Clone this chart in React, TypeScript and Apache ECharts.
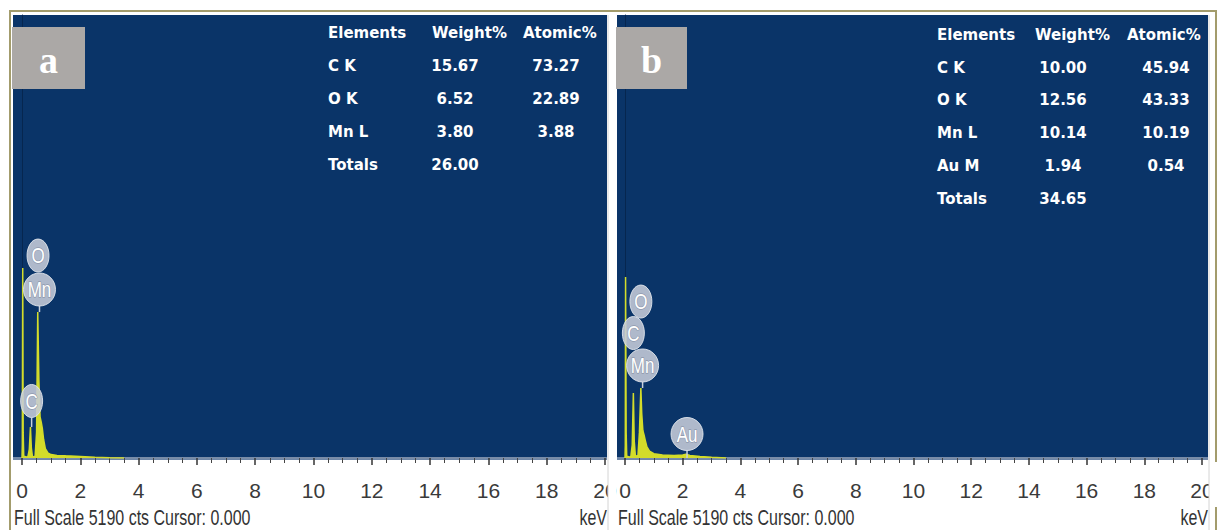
import React, { useEffect, useRef } from "react";
import * as echarts from "echarts";

// ---------- data ----------
const xTicks = [0, 2, 4, 6, 8, 10, 12, 14, 16, 18, 20];
const fullScale = 5190;

const specAkeV = [0, 0.01, 0.025, 0.04, 0.06, 0.2, 0.25, 0.29, 0.32, 0.36, 0.45, 0.5, 0.54, 0.58, 0.62, 0.66, 0.7, 0.74, 0.8, 0.9, 1.0, 1.2, 1.5, 2.0, 2.5, 3.0, 3.5];
const specActs = [0, 150, 2226, 300, 20, 10, 100, 363, 120, 10, 20, 300, 1710, 900, 480, 420, 340, 220, 110, 55, 40, 30, 25, 18, 10, 3, 0];

const specBkeV = [0, 0.01, 0.02, 0.04, 0.06, 0.2, 0.25, 0.29, 0.32, 0.36, 0.45, 0.5, 0.55, 0.58, 0.62, 0.66, 0.7, 0.76, 0.85, 1.0, 1.3, 1.7, 2.0, 2.12, 2.25, 2.6, 3.0, 3.5];
const specBcts = [0, 150, 2120, 300, 20, 10, 150, 762, 200, 20, 30, 300, 820, 520, 320, 270, 210, 130, 80, 50, 35, 30, 35, 45, 30, 18, 8, 0];

// peak labels: [keV, label-centre cts, pin-end cts]
const peakAText = ["O", "Mn", "C"];
const peakAPos = [[0.55, 2372, 2372], [0.6, 1974, 1710], [0.33, 668, 363]];
const peakBText = ["O", "C", "Mn", "Au"];
const peakBPos = [[0.55, 1833, 1833], [0.29, 1464, 1464], [0.61, 1084, 820], [2.15, 281, 0]];

const tableHeader = ["Elements", "Weight%", "Atomic%"];
const tableARows = [
  ["C K", "15.67", "73.27"],
  ["O K", "6.52", "22.89"],
  ["Mn L", "3.80", "3.88"],
  ["Totals", "26.00", ""],
];
const tableBRows = [
  ["C K", "10.00", "45.94"],
  ["O K", "12.56", "43.33"],
  ["Mn L", "10.14", "10.19"],
  ["Au M", "1.94", "0.54"],
  ["Totals", "34.65", ""],
];
const panelLetters = ["a", "b"];
const footerText = "Full Scale 5190 cts Cursor: 0.000";
const unitText = "keV";

// ---------- style / layout ----------
const NAVY = "#0a3468";
const YELLOW = "#d3dc2a";
const NARROW = "'Liberation Sans Narrow', 'Liberation Sans', Arial, sans-serif";
const TABLE_FONT = "bold 15px 'DejaVu Sans', sans-serif";

const panels = [
  { bx: 13, bw: 594, gl: 22, gw: 583, box: [12, 27, 73, 62], tbl: { el: 328, hdr: [328, 432, 523], wc: 455, ac: 556, y0: 33, dy: 33 }, rows: tableARows },
  { bx: 617, bw: 591, gl: 625, gw: 577, box: [616, 27, 71, 62], tbl: { el: 937, hdr: [937, 1035, 1127], wc: 1063, ac: 1166, y0: 35, dy: 32.7 }, rows: tableBRows },
];
const GTOP = 15;
const GH = 443;

function makeLabelSeries(texts: string[], pos: number[][], idx: number) {
  return {
    type: "custom",
    xAxisIndex: idx,
    yAxisIndex: idx,
    z: 6,
    clip: false,
    data: pos,
    renderItem: (params: any, api: any) => {
      const c = api.coord([api.value(0), api.value(1)]);
      const p = api.coord([api.value(0), api.value(2)]);
      const t = texts[params.dataIndex];
      const rx = t.length > 1 ? 16 : 11;
      const ry = 16.5;
      const children: any[] = [];
      if (p[1] > c[1] + ry) {
        children.push({ type: "line", shape: { x1: c[0], y1: c[1] + ry, x2: c[0], y2: p[1] }, style: { stroke: "#c8d0dc", lineWidth: 1.5 } });
      }
      children.push({ type: "ellipse", shape: { cx: c[0], cy: c[1], rx, ry }, style: { fill: "rgba(198,204,216,0.88)", stroke: "rgba(225,229,236,0.9)", lineWidth: 1 } });
      children.push({
        type: "text",
        x: c[0],
        y: c[1],
        scaleY: 1.3,
        style: { text: t, fill: "#ffffff", font: `17px ${NARROW}`, align: "center", verticalAlign: "middle", stroke: "rgba(120,130,150,0.6)", lineWidth: 1 },
      });
      return { type: "group", children };
    },
  };
}

export default function App() {
  const ref = useRef<HTMLDivElement>(null);
  useEffect(() => {
    if (!ref.current) return;
    const chart = echarts.init(ref.current, null, { renderer: "svg" });

    const graphic: any[] = [];
    graphic.push({ type: "rect", z: 0, shape: { x: 10, y: 11, width: 1206, height: 540 }, style: { fill: "none", stroke: "#a39c6c", lineWidth: 2 } });
    panels.forEach((pn, i) => {
      graphic.push({ type: "rect", z: 0, shape: { x: pn.bx, y: GTOP, width: pn.bw, height: GH }, style: { fill: NAVY } });
      graphic.push({ type: "rect", z: 0, shape: { x: pn.bx, y: GTOP + GH - 1, width: pn.bw, height: 3 }, style: { fill: "#6f87a8" } });
      const [bx, by, bw, bh] = pn.box;
      graphic.push({ type: "rect", z: 1, shape: { x: bx, y: by, width: bw, height: bh }, style: { fill: "#aba8a6" } });
      graphic.push({
        type: "text", z: 2, x: bx + bw / 2, y: by + bh / 2 + 2,
        style: { text: panelLetters[i], fill: "#ffffff", font: "bold 38px 'Liberation Serif', 'DejaVu Serif', serif", align: "center", verticalAlign: "middle" },
      });
      const t = pn.tbl;
      tableHeader.forEach((h, k) => {
        graphic.push({ type: "text", z: 2, x: t.hdr[k], y: t.y0, style: { text: h, fill: "#ffffff", font: TABLE_FONT, align: "left", verticalAlign: "middle" } });
      });
      pn.rows.forEach((r, j) => {
        const y = t.y0 + (j + 1) * t.dy;
        graphic.push({ type: "text", z: 2, x: t.el, y, style: { text: r[0], fill: "#ffffff", font: TABLE_FONT, align: "left", verticalAlign: "middle" } });
        graphic.push({ type: "text", z: 2, x: t.wc, y, style: { text: r[1], fill: "#ffffff", font: TABLE_FONT, align: "center", verticalAlign: "middle" } });
        if (r[2]) graphic.push({ type: "text", z: 2, x: t.ac, y, style: { text: r[2], fill: "#ffffff", font: TABLE_FONT, align: "center", verticalAlign: "middle" } });
      });
      graphic.push({ type: "text", z: 2, x: pn.bx + 1, y: 517, scaleY: 1.4, style: { text: footerText, fill: "#333333", font: `16px ${NARROW}`, align: "left", verticalAlign: "middle" } });
      graphic.push({ type: "text", z: 12, x: pn.bx + pn.bw, y: 517, scaleY: 1.4, style: { text: unitText, fill: "#333333", font: `16px ${NARROW}`, align: "right", verticalAlign: "middle" } });
      graphic.push({ type: "rect", z: 10, shape: { x: pn.bx + pn.bw + 1, y: 462, width: i === 0 ? 8 : 12, height: 45 }, style: { fill: "#ffffff" } });
      graphic.push({ type: "line", z: 11, shape: { x1: pn.bx + pn.bw + 1, y1: 15, x2: pn.bx + pn.bw + 1, y2: 530 }, style: { stroke: "#d4d4d4", lineWidth: 1 } });
    });

    const grids = panels.map((pn) => ({ left: pn.gl, width: pn.gw, top: GTOP, height: GH, containLabel: false }));
    const xAxes = panels.map((_, i) => ({
      type: "value",
      gridIndex: i,
      min: xTicks[0],
      max: xTicks[xTicks.length - 1],
      interval: xTicks[1] - xTicks[0],
      offset: 3,
      z: 3,
      axisLine: { show: true, lineStyle: { color: "#7c8ea8", width: 1.5 } },
      axisTick: { show: true, length: 7, lineStyle: { color: "#333", width: 1.5 } },
      minorTick: { show: true, splitNumber: 4, length: 5, lineStyle: { color: "#444", width: 1 } },
      splitLine: { show: false },
      axisLabel: { show: true, margin: 19, fontSize: 21, fontFamily: NARROW, color: "#3a3a3a", showMaxLabel: true, showMinLabel: true },
    }));
    const yAxes = panels.map((_, i) => ({
      type: "value",
      gridIndex: i,
      min: 0,
      max: fullScale,
      axisLine: { show: true, lineStyle: { color: "#06264f", width: 1 } },
      axisTick: { show: false },
      axisLabel: { show: false },
      splitLine: { show: false },
    }));

    const mkSpec = (xs: number[], ys: number[], i: number) => ({
      type: "line",
      xAxisIndex: i,
      yAxisIndex: i,
      z: 5,
      symbol: "none",
      data: xs.map((x, k) => [x, ys[k]]),
      lineStyle: { color: YELLOW, width: 1.5 },
      areaStyle: { color: YELLOW, opacity: 1 },
    });

    chart.setOption({
      animation: false,
      backgroundColor: "#ffffff",
      grid: grids,
      xAxis: xAxes,
      yAxis: yAxes,
      graphic,
      series: [
        mkSpec(specAkeV, specActs, 0),
        mkSpec(specBkeV, specBcts, 1),
        makeLabelSeries(peakAText, peakAPos, 0),
        makeLabelSeries(peakBText, peakBPos, 1),
      ],
    });
    return () => chart.dispose();
  }, []);
  return <div ref={ref} style={{ width: 1218, height: 530, position: "absolute", left: 0, top: 0 }} />;
}
